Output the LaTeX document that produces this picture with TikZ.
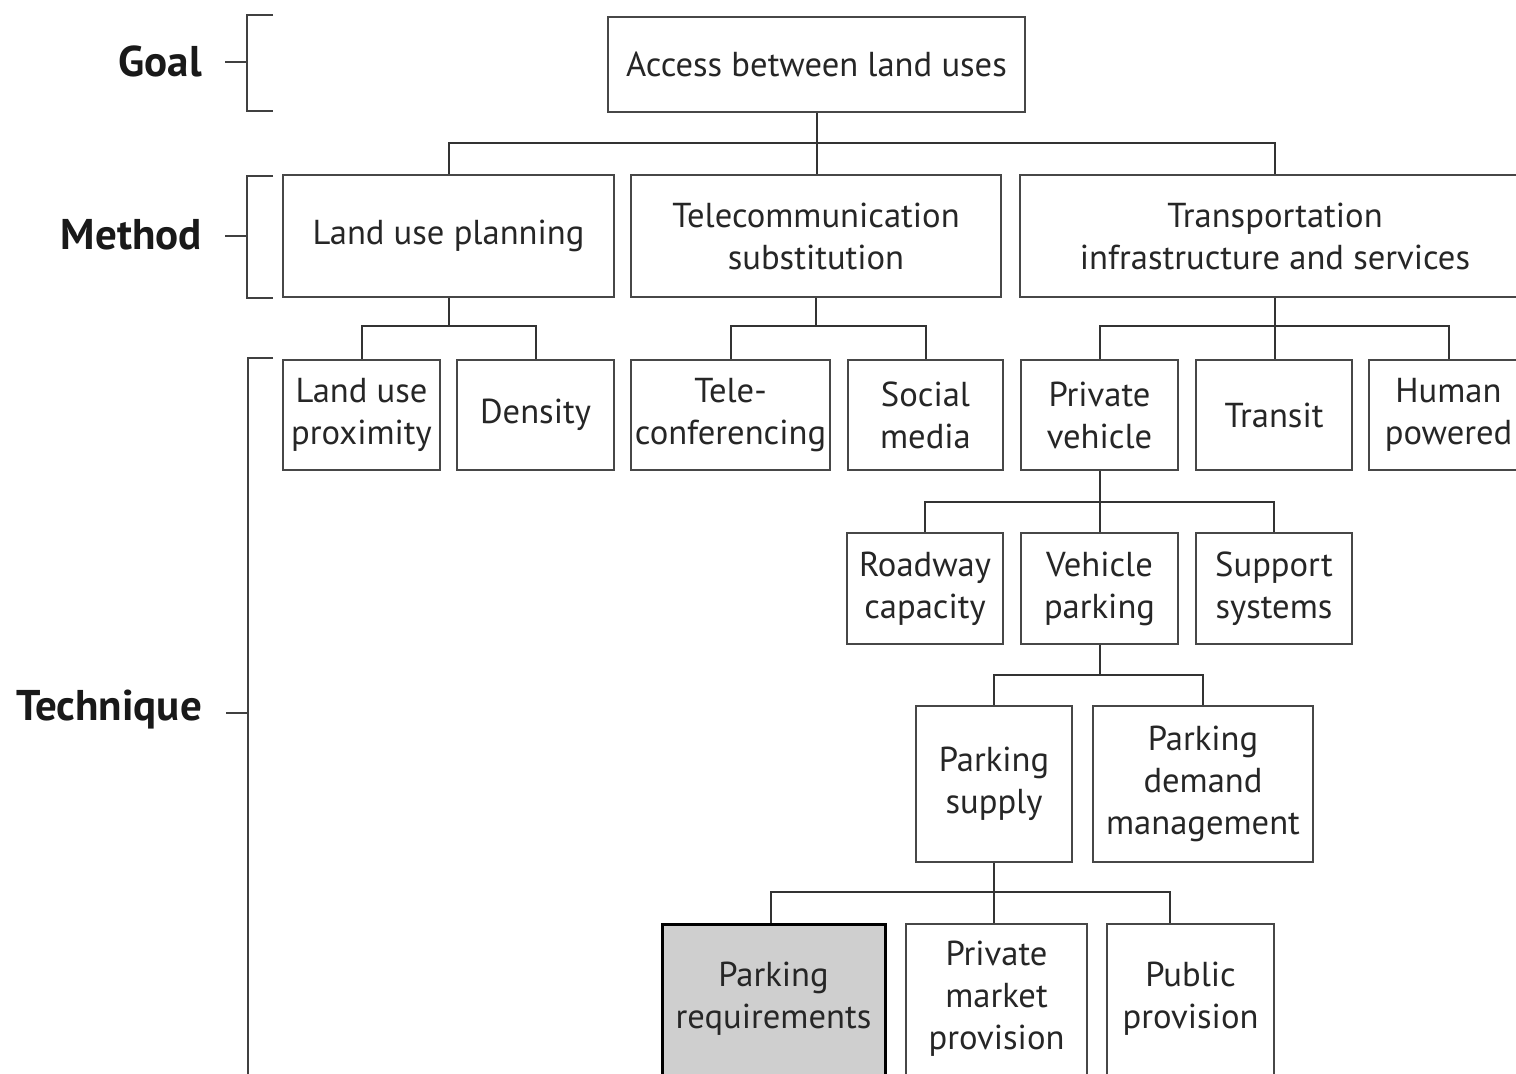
\documentclass[tikz,border=0pt]{standalone}
\usepackage{fontspec}
\setmainfont{PT Sans}
\newcommand{\bx}[7][box]{%
  \node[#1, minimum width={(#4-#2)*0.5pt}, minimum height={(#5-#3)*0.5pt}]
    (#6) at ({(#2+#4)/2},{(#3+#5)/2}) {#7};}
\begin{document}
\begin{tikzpicture}[x=0.5pt,y=-0.5pt,
  box/.style={draw=black!72, line width=1pt, inner sep=0pt, align=center,
    font=\fontsize{17.3}{21}\selectfont, text=black!85},
  hibox/.style={box, draw=black, line width=1.5pt, fill=black!19},
  conn/.style={draw=black!80, line width=1pt},
  brk/.style={draw=black!75, line width=1pt},
  lvl/.style={anchor=east, font=\fontsize{21.5}{25}\bfseries\selectfont, text=black!90}]
\useasboundingbox (0,0) rectangle (1516,1074);
\fill[white] (0,0) rectangle (1516,1074);
\clip (0,0) rectangle (1516,1074);

% level labels and brackets
\node[lvl] (lg) at (209,61) {Goal};
\node[lvl] (lm) at (209,235) {Method};
\node[lvl] (lt) at (209,710) {Technique};
\draw[brk] (273,15) -- (247,15) -- (247,111) -- (273,111);
\draw[brk] (225,62) -- (247,62);
\draw[brk] (273,176) -- (247,176) -- (247,298) -- (273,298);
\draw[brk] (225,236) -- (247,236);
\draw[brk] (273,358) -- (248,358) -- (248,1090);
\draw[brk] (226,713) -- (248,713);

% goal
\bx{608}{17}{1025}{112}{acc}{Access between land uses}

% methods
\bx{283}{175}{614}{297}{lup}{Land use planning}
\bx{631}{175}{1001}{297}{tel}{Telecommunication\\substitution}
\bx{1020}{175}{1530}{297}{tra}{Transportation\\infrastructure and services}

% techniques row 1
\bx{283}{360}{440}{470}{prox}{Land use\\proximity}
\bx{457}{360}{614}{470}{den}{Density}
\bx{631}{360}{830}{470}{tcf}{Tele-\\conferencing}
\bx{848}{360}{1003}{470}{soc}{Social\\media}
\bx{1021}{360}{1178}{470}{pv}{Private\\vehicle}
\bx{1196}{360}{1352}{470}{trn}{Transit}
\bx{1369}{360}{1528}{470}{hum}{Human\\powered}

% row 2
\bx{847}{533}{1003}{644}{road}{Roadway\\capacity}
\bx{1021}{533}{1178}{644}{vp}{Vehicle\\parking}
\bx{1196}{533}{1352}{644}{sup}{Support\\systems}

% row 3
\bx{916}{706}{1072}{862}{ps}{Parking\\supply}
\bx{1093}{706}{1313}{862}{pdm}{Parking\\demand\\management}

% row 4 (cut off by the lower edge)
\bx[hibox]{662}{924}{885}{1073}{preq}{Parking\\requirements}
\bx{906}{924}{1087}{1073}{pmp}{Private\\market\\provision}
\bx{1107}{924}{1274}{1073}{pub}{Public\\provision}
\fill[white] (600,1072) rectangle (1300,1090);
\draw[draw=black, line width=1.5pt] (662,1060) -- (662,1090) (885,1060) -- (885,1090);
\draw[draw=black!72, line width=1pt] (906,1060) -- (906,1090) (1087,1060) -- (1087,1090)
  (1107,1060) -- (1107,1090) (1274,1060) -- (1274,1090);
\fill[black!19] ([shift={(1.5,0)}]662,1062) rectangle ([shift={(-1.5,0)}]885,1090);

% connectors
\coordinate (b1) at (0,143);
\draw[conn] (acc.south) -- (acc.south |- tel.north);
\draw[conn] (lup.north) -- (lup.north |- b1) -- (tra.north |- b1) -- (tra.north);

\coordinate (b2) at (0,326);
\draw[conn] (lup.south) -- (lup.south |- b2);
\draw[conn] (prox.north) -- (prox.north |- b2) -- (den.north |- b2) -- (den.north);
\draw[conn] (tel.south) -- (tel.south |- b2);
\draw[conn] (tcf.north) -- (tcf.north |- b2) -- (soc.north |- b2) -- (soc.north);
\draw[conn] (tra.south) -- (tra.south |- trn.north);
\draw[conn] (pv.north) -- (pv.north |- b2) -- (hum.north |- b2) -- (hum.north);

\coordinate (b3) at (0,502);
\draw[conn] (pv.south) -- (vp.north);
\draw[conn] (road.north) -- (road.north |- b3) -- (sup.north |- b3) -- (sup.north);

\coordinate (b4) at (0,675);
\draw[conn] (vp.south) -- (vp.south |- b4);
\draw[conn] (ps.north) -- (ps.north |- b4) -- (pdm.north |- b4) -- (pdm.north);

\coordinate (b5l) at (771,892);
\coordinate (b5r) at (1170,892);
\draw[conn] (ps.south) -- (ps.south |- pmp.north);
\draw[conn] (b5l |- preq.north) -- (b5l) -- (b5r) -- (b5r |- pub.north);
\end{tikzpicture}
\end{document}
